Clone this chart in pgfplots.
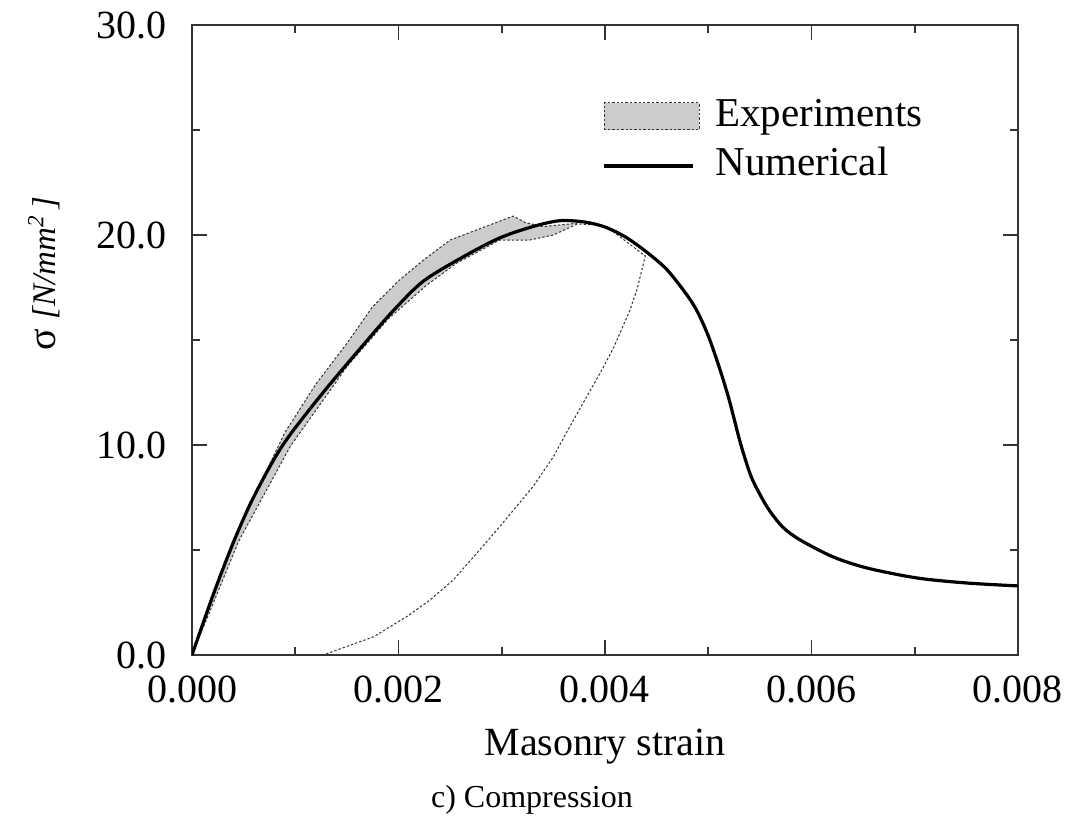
\documentclass[border=0pt]{standalone}
\usepackage{fontspec}
\setmainfont{Liberation Serif}
\usepackage{pgfplots}
\pgfplotsset{compat=1.18}

\begin{document}
\begin{tikzpicture}
\useasboundingbox (-96pt,-82pt) rectangle (438.5pt,327.5pt);
\begin{axis}[
    at={(0pt,0pt)}, anchor=south west,
    scale only axis,
    width=413pt, height=315pt,
    xmin=0, xmax=0.008,
    ymin=0, ymax=30,
    scaled x ticks=false,
    xtick={0,0.002,0.004,0.006,0.008},
    xticklabels={0.000,0.002,0.004,0.006,0.008},
    minor xtick={0.001,0.003,0.005,0.007},
    ytick={0,10,20,30},
    yticklabels={0.0,10.0,20.0,30.0},
    minor ytick={5,15,25},
    tick pos=both,
    tick align=inside,
    major tick length=7.5pt,
    minor tick length=4pt,
    every tick/.style={black!80, line width=0.8pt},
    axis line style={black!80, line width=0.8pt},
    tick label style={font=\fontsize{20}{24}\selectfont},
    xticklabel style={anchor=north, inner sep=0pt, yshift=-10pt},
    yticklabel style={anchor=east, inner sep=0pt, xshift=-12.5pt},
    xlabel={Masonry strain},
    xlabel style={at={(axis description cs:0.5,0)}, anchor=base, yshift=-50pt,
        font=\fontsize{20}{24}\selectfont},
    ylabel={{\fontsize{20}{24}\selectfont σ}\hspace{0.3em}\textit{[N/mm\textsuperscript{2}\,]}},
    ylabel style={at={(axis description cs:-0.179,0.605)}, anchor=center,
        font=\fontsize{16.5}{20}\selectfont},
]

% experimental band (between upper and lower test curves)
\addplot[fill=gray!40, draw=none] coordinates {
    (0,0)(0.0004,5.5)(0.0009,10.6)(0.0012,12.9)(0.0015,14.84)(0.00175,16.59)
    (0.00201,17.86)(0.00224,18.8)(0.0025,19.76)(0.00311,20.9)(0.00323,20.59)
    (0.0034,20.4)(0.00373,20.56)
    (0.0035,20.0)(0.00327,19.76)(0.00298,19.76)(0.00256,18.65)(0.00227,17.6)
    (0.0019,16.0)(0.0015,13.73)(0.00095,9.92)(0.00045,5.4)(0,0)
} -- cycle;

% upper test curve
\addplot[black!80, line width=0.5pt, dash pattern=on 1.2pt off 1pt] coordinates {
    (0,0)(0.0004,5.5)(0.0009,10.6)(0.0012,12.9)(0.0015,14.84)(0.00175,16.59)
    (0.00201,17.86)(0.00224,18.8)(0.0025,19.76)(0.00311,20.9)(0.00323,20.59)
    (0.0034,20.4)(0.00373,20.56)
};

% lower test curve, with unloading branch
\addplot[black!80, line width=0.5pt, dash pattern=on 1.2pt off 1pt] coordinates {
    (0,0)(0.00045,5.4)(0.00095,9.92)(0.0015,13.73)(0.0019,16.0)(0.00227,17.6)
    (0.00256,18.65)(0.00298,19.76)(0.00327,19.76)(0.0035,20.0)(0.00373,20.52)
    (0.00395,20.48)(0.00408,20.16)(0.00439,19.0)
    (0.00431,17.4)(0.00424,16.4)(0.00408,14.6)(0.00395,13.4)(0.0038,12.1)
    (0.00365,10.8)(0.0035,9.44)(0.0033,8.0)(0.00298,6.11)(0.00275,4.8)
    (0.00253,3.57)(0.0023,2.6)(0.00208,1.83)(0.00176,0.87)(0.00127,0)
};

% numerical
\addplot[black, line width=1.6pt, smooth, tension=0.5] coordinates {
    (0,0)(0.0002,2.8)(0.0004,5.35)(0.0006,7.55)(0.00088,10.0)(0.00127,12.5)
    (0.0017,15.0)(0.00195,16.4)(0.00224,17.8)(0.00263,18.97)(0.00298,19.86)
    (0.0033,20.4)(0.00356,20.68)(0.0038,20.62)(0.004,20.38)(0.0042,19.9)
    (0.0044,19.2)(0.0046,18.35)(0.0048,17.1)(0.0049,16.3)(0.005,15.2)
    (0.0051,13.8)(0.0052,12.2)(0.0053,10.3)(0.00536,9.3)(0.00543,8.33)
    (0.00557,7.05)(0.00572,6.1)(0.00589,5.48)(0.00621,4.67)(0.00654,4.14)
    (0.00702,3.67)(0.0075,3.43)(0.008,3.29)
};
\end{axis}

% legend
\draw[black!80, line width=0.5pt, dash pattern=on 1.2pt off 1pt, fill=gray!40]
    (206pt,262.5pt) rectangle (253.5pt,276pt);
\draw[black, line width=1.6pt] (206pt,244.5pt) -- (250.5pt,244.5pt);
\node[anchor=base west, inner sep=0pt, font=\fontsize{20.5}{24}\selectfont]
    at (261.5pt,264pt) {Experiments};
\node[anchor=base west, inner sep=0pt, font=\fontsize{20.5}{24}\selectfont]
    at (261.5pt,239.5pt) {Numerical};

% caption
\node[anchor=base, inner sep=0pt, font=\fontsize{16}{19}\selectfont]
    at (170pt,-76pt) {c) Compression};
\end{tikzpicture}
\end{document}
